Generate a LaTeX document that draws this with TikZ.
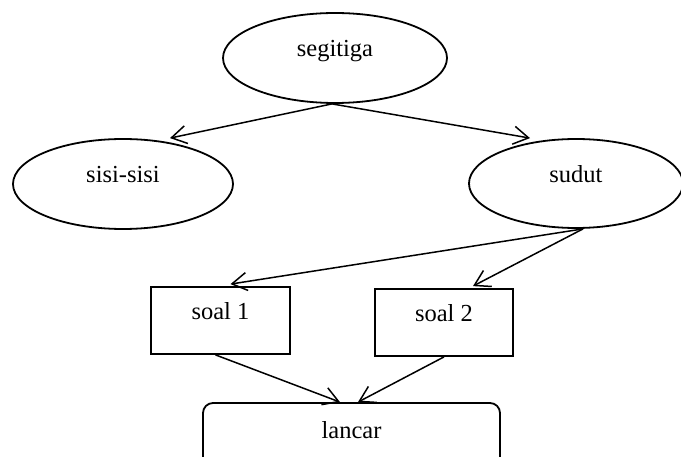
\documentclass[tikz,border=0pt]{standalone}
\usepackage{fontspec}
\setmainfont{Liberation Serif}
\usetikzlibrary{arrows.meta,shapes.geometric}
\begin{document}
\begin{tikzpicture}[x=1pt,y=-1pt,
  every node/.style={font=\fontsize{24.5}{29}\selectfont, line width=1.8pt, inner sep=0pt, text height=12pt, text depth=14.6pt},
  oval/.style={draw, ellipse},
  box/.style={draw, rectangle},
  conn/.style={line width=1.5pt, -{Straight Barb[length=15pt,width=18pt,line width=1.5pt]}}
]
\useasboundingbox (0,0) rectangle (681,457);
\clip (0,0) rectangle (681,457);
\node[oval, minimum width=224pt, minimum height=90pt] (seg) at (335,58) {segitiga};
\node[oval, minimum width=220pt, minimum height=90pt] (sisi) at (123,184) {sisi-sisi};
\node[oval, minimum width=214pt, minimum height=89pt] (sudut) at (576,183.5) {sudut};
\node[box, minimum width=139pt, minimum height=67pt] (soal1) at (220.5,320.5) {soal 1};
\node[box, minimum width=138pt, minimum height=67pt] (soal2) at (444,322.5) {soal 2};
\node[box, rounded corners=10pt, minimum width=297pt, minimum height=74pt] (lancar) at (351.5,440) {lancar};
\draw[conn] ([xshift=-3pt]seg.south) -- ([xshift=47pt]sisi.north);
\draw[conn] ([xshift=-3pt]seg.south) -- ([xshift=-46pt]sudut.north);
\draw[conn] ([xshift=7pt]sudut.south) -- ([xshift=10pt,yshift=2pt]soal1.north);
\draw[conn] ([xshift=7pt]sudut.south) -- ([xshift=29pt,yshift=2pt]soal2.north);
\draw[conn] ([xshift=-5pt]soal1.south) -- ([xshift=-11.5pt]lancar.north);
\draw[conn] (soal2.south) -- ([xshift=6.5pt]lancar.north);
\end{tikzpicture}
\end{document}
